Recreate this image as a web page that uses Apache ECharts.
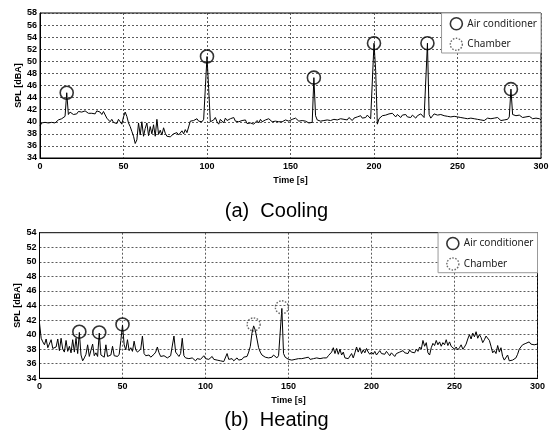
<!DOCTYPE html>
<html><head><meta charset="utf-8">
<script src="https://cdn.jsdelivr.net/npm/echarts@6/dist/echarts.min.js"></script>
<style>html,body{margin:0;padding:0;background:#fff}#c{width:553px;height:434px}</style>
</head><body><div id="c"></div>
<script>
// Cooling SPL, 1 s samples, t = 0..300
const coolingSPL = [
39.3,39.8,39.7,39.9,39.6,39.8,39.5,39.9,40.0,39.8,
40.1,40.3,40.2,40.5,40.7,40.9,44.8,41.2,41.6,41.3,
41.2,41.5,41.3,41.7,41.4,41.6,41.3,41.8,41.5,41.4,
41.7,41.4,41.6,41.3,41.8,41.5,41.6,41.2,41.7,41.4,
40.6,40.3,40.0,40.4,39.9,40.2,39.7,40.4,40.0,39.6,
40.8,41.6,40.9,39.8,39.2,38.4,37.6,36.4,37.0,39.8,
37.8,40.0,37.6,38.9,39.8,37.7,39.2,38.0,39.5,37.6,
40.4,37.9,38.6,37.8,39.0,38.1,37.6,37.8,37.5,37.7,
38.0,37.9,38.2,37.8,38.1,38.5,38.0,38.7,38.2,37.9,
40.1,39.8,40.2,40.0,40.5,40.1,40.3,40.0,40.4,40.1,
50.8,45.5,40.0,39.8,40.3,40.7,40.0,39.6,40.4,40.1,
39.8,40.6,40.2,39.9,40.5,40.3,40.7,40.1,40.4,40.0,
39.8,40.2,39.9,40.3,39.7,40.0,39.8,40.1,39.6,39.9,
40.2,39.8,40.4,40.0,39.8,40.3,40.1,40.5,40.2,40.0,
39.9,40.1,39.8,40.0,40.2,40.0,39.9,40.3,40.0,40.1,
40.0,40.4,40.2,40.6,40.3,40.1,40.0,40.2,39.9,40.1,
40.0,39.8,40.1,39.9,47.3,41.0,40.3,40.0,40.1,40.2,
40.2,40.0,40.3,40.1,40.2,40.0,40.4,40.2,40.3,40.1,
40.5,40.2,40.4,40.6,40.3,40.7,40.4,40.2,40.6,40.4,
40.8,40.5,41.0,40.6,40.9,40.7,41.1,40.8,40.5,40.3,
53.0,48.5,39.6,40.5,40.8,41.0,40.7,41.1,40.9,41.3,
41.0,41.4,41.1,40.8,41.2,41.0,40.7,41.1,40.9,41.2,
40.8,41.0,40.7,41.1,40.9,40.6,41.0,40.8,41.3,41.0,
40.7,41.0,53.0,41.2,40.6,40.9,41.3,41.0,41.1,40.8,
41.2,40.9,41.0,40.7,40.9,41.1,40.8,40.6,40.9,40.7,
40.8,40.5,40.7,40.4,40.6,40.8,40.5,40.3,40.6,40.4,
40.5,40.2,40.4,40.7,40.3,40.5,40.2,40.4,40.6,40.3,
40.5,40.2,40.6,40.3,40.7,40.4,40.2,40.5,40.3,40.6,
40.4,40.8,45.4,41.2,40.9,41.0,40.8,41.1,40.9,40.7,
41.0,40.8,40.6,40.9,40.7,40.5,40.8,40.6,40.4,40.5,
40.3];
// Heating SPL, 1 s samples, t = 0..300
const heatingSPL = [
41.6,39.5,39.0,38.6,39.4,38.2,38.0,39.3,38.1,37.9,
38.3,39.4,37.8,39.5,38.0,37.6,39.2,37.7,38.4,37.5,
39.3,37.6,39.5,37.4,40.3,37.2,36.4,36.8,37.3,38.6,
37.0,36.9,38.7,37.1,37.5,37.0,40.2,37.2,37.0,36.9,
38.6,37.0,36.8,37.2,38.4,37.1,36.9,37.0,37.3,39.2,
41.3,38.6,37.9,39.3,37.8,38.2,37.7,39.1,37.9,37.6,
37.8,38.0,39.8,37.4,37.1,37.0,37.2,36.9,37.0,37.3,
37.6,38.3,37.5,37.0,36.9,37.1,37.3,36.8,37.0,37.1,
36.9,39.8,37.6,37.3,37.0,37.4,39.5,37.1,36.8,36.6,
36.7,36.5,36.8,36.6,36.4,36.7,36.5,36.6,36.8,37.1,
36.7,36.5,36.6,36.8,37.0,36.6,36.4,36.5,36.7,36.4,
36.6,36.3,36.5,37.4,36.6,36.5,36.7,36.4,36.6,36.8,
36.5,36.7,36.6,36.9,36.7,37.0,37.6,38.4,40.2,41.2,
40.6,39.4,38.2,37.6,37.2,37.0,36.9,37.1,36.8,37.0,
36.9,37.2,37.0,36.8,37.1,37.0,43.6,37.4,36.9,36.7,
36.6,36.8,36.5,36.7,36.6,36.8,36.7,36.5,36.7,36.6,
36.8,36.7,36.9,36.6,36.8,36.7,36.9,36.8,37.0,36.7,
36.9,36.8,37.0,36.8,37.1,36.9,37.6,38.2,37.4,38.1,
37.3,38.0,37.2,37.6,36.8,37.0,36.7,36.9,37.4,36.8,
37.5,38.3,37.6,38.2,37.4,37.9,37.5,38.1,37.6,37.3,
37.6,37.3,37.7,37.2,37.5,37.8,37.4,37.6,37.3,37.7,
37.4,37.1,37.5,37.3,37.0,37.4,37.2,37.6,37.4,37.8,
37.5,37.7,37.4,37.9,37.6,37.8,37.5,38.0,37.7,38.3,
38.0,39.2,38.4,38.9,37.5,37.2,38.2,38.8,38.5,39.2,
38.6,39.0,38.4,38.9,38.6,39.3,38.5,39.0,38.4,38.2,
38.0,38.3,37.9,38.2,38.6,38.0,38.3,38.7,39.4,40.0,
39.4,40.2,39.7,40.4,39.5,40.0,39.6,38.9,39.3,39.8,
40.0,39.2,38.4,37.5,37.8,37.4,38.5,37.6,38.2,37.0,
36.5,36.3,37.2,36.4,36.2,36.5,36.3,36.8,37.3,38.0,
38.3,38.6,38.4,38.8,38.6,39.0,38.7,38.9,38.6,38.8,
38.7];
// Marked events [time s, SPL dBA]
const coolingAC = [[16,44.8],[100,50.8],[164,47.3],[200,53.0],[232,53.0],[282,45.4]];
const coolingChamber = [];
const heatingAC = [[24,40.4],[36,40.3],[50,41.4]];
const heatingChamber = [[129,41.4],[146,43.75]];
const xTicks = {min:0, max:300, interval:50};
const coolingY = {min:34, max:58, interval:2};
const heatingY = {min:34, max:54, interval:2};
const captions = ['(a)  Cooling', '(b)  Heating'];
const legendNames = ['Air conditioner', 'Chamber'];

const toPairs = arr => arr.map((v,i)=>[i,v]);
const chart = echarts.init(document.getElementById('c'), null, {renderer:'canvas'});
const lab = {fontFamily:'Liberation Sans, Arial', fontWeight:'bold', fontSize:9, color:'#000'};
const split = {show:true, lineStyle:{color:'#333', type:[2,2], width:0.8}};
function xAx(g){return {type:'value', gridIndex:g, min:xTicks.min, max:xTicks.max, interval:xTicks.interval,
  name:'Time [s]', nameLocation:'middle', nameGap:18, nameMoveOverlap:false, nameTextStyle:lab,
  axisLine:{show:true,lineStyle:{color:'#000'}}, axisTick:{show:false},
  axisLabel:Object.assign({margin:4},lab), splitLine:split};}
function yAx(g,r){return {type:'value', gridIndex:g, min:r.min, max:r.max, interval:r.interval,
  name:'SPL [dBA]', nameLocation:'middle', nameGap:17, nameMoveOverlap:false, nameTextStyle:lab,
  axisLine:{show:true,lineStyle:{color:'#000'}}, axisTick:{show:false},
  axisLabel:Object.assign({margin:3},lab), splitLine:split};}
const acStyle = {color:'rgba(0,0,0,0)', borderColor:'#000', borderWidth:1.6};
const chStyle = {color:'rgba(0,0,0,0)', borderColor:'#444', borderWidth:1.4, borderType:[1.5,1.5]};
function legend(top,right){return {top:top, right:right, orient:'vertical',
  data:[{name:legendNames[0], itemStyle:acStyle}, {name:legendNames[1], itemStyle:chStyle}],
  backgroundColor:'#fff', borderColor:'#999', borderWidth:1, padding:[4,4,2,8], itemGap:7,
  itemWidth:12, itemHeight:12, selectedMode:false,
  textStyle:{fontFamily:'Noto Sans', fontSize:10, lineHeight:12, color:'#222'}};}
chart.setOption({
  animation:false,
  grid:[{left:40, right:12, top:13, height:145, show:true, borderColor:'#000', borderWidth:1},
        {left:39.5, right:15.5, top:232.7, height:145.6, show:true, borderColor:'#000', borderWidth:1}],
  xAxis:[xAx(0), xAx(1)],
  yAxis:[yAx(0,coolingY), yAx(1,heatingY)],
  legend:[legend(13,12), legend(232.7,15.5)],
  graphic:[
    {type:'text', left:'center', top:201, style:{text:captions[0], font:'20px "Liberation Sans", Arial', fill:'#000'}},
    {type:'text', left:'center', top:410, style:{text:captions[1], font:'20px "Liberation Sans", Arial', fill:'#000'}}
  ],
  series:[
    {type:'line', xAxisIndex:0, yAxisIndex:0, data:toPairs(coolingSPL), symbol:'none', lineStyle:{color:'#000', width:1}, z:2},
    {type:'line', xAxisIndex:1, yAxisIndex:1, data:toPairs(heatingSPL), symbol:'none', lineStyle:{color:'#000', width:1}, z:2},
    {name:legendNames[0], type:'scatter', xAxisIndex:0, yAxisIndex:0, data:coolingAC, symbol:'circle', symbolSize:13, itemStyle:acStyle, z:3},
    {name:legendNames[1], type:'scatter', xAxisIndex:0, yAxisIndex:0, data:coolingChamber, symbol:'circle', symbolSize:13, itemStyle:chStyle, z:3},
    {name:legendNames[0], type:'scatter', xAxisIndex:1, yAxisIndex:1, data:heatingAC, symbol:'circle', symbolSize:13, itemStyle:acStyle, z:3},
    {name:legendNames[1], type:'scatter', xAxisIndex:1, yAxisIndex:1, data:heatingChamber, symbol:'circle', symbolSize:13, itemStyle:chStyle, z:3}
  ]
});
</script></body></html>
